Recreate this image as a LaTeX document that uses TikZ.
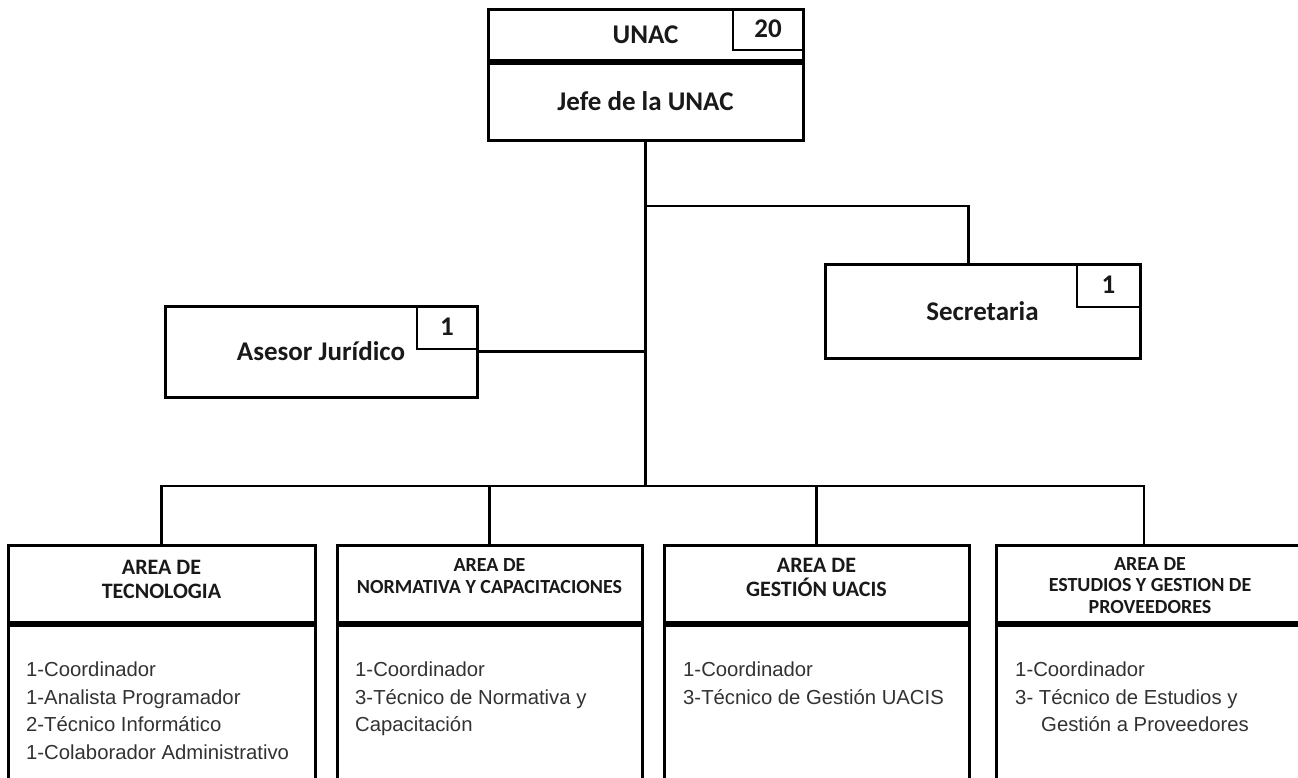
\documentclass[tikz,border=0pt]{standalone}
\usepackage{fontspec}
\setmainfont{Carlito}
\newfontfamily\arialfont{Liberation Sans}
\usetikzlibrary{positioning}
\definecolor{ink}{RGB}{25,25,25}
\definecolor{staffgray}{RGB}{50,50,50}

\tikzset{
  box/.style={draw=black, line width=3pt, inner sep=0pt},
  numbox/.style={box, line width=2pt, anchor=north east},
  link/.style={draw=black, line width=2.6pt},
  bigtext/.style={font=\bfseries\fontsize{27}{30}\selectfont, text=ink},
  areatitle/.style={font=\bfseries\fontsize{22}{24}\selectfont, align=center, text=ink, inner sep=0pt},
  areasmall/.style={font=\bfseries\fontsize{20}{21.5}\selectfont, align=center, text=ink, inner sep=0pt},
  staff/.style={font=\arialfont\fontsize{20.3}{27.5}\selectfont, align=left, anchor=north west, inner sep=0pt, text=staffgray},
}

\begin{document}
\begin{tikzpicture}[x=1pt, y=-1pt]
  \useasboundingbox (0,0) rectangle (1298,777);
  \clip (0,0) rectangle (1298,777);

  % jefatura
  \node[box, bigtext, minimum width=315pt, minimum height=51pt] (unac) at (645.5,34.5) {UNAC};
  \node[numbox, bigtext, minimum width=71pt, minimum height=41pt] (unacnum) at (unac.north east) {20};
  \node[box, bigtext, minimum width=315pt, minimum height=77pt, anchor=north] (jefe) at (unac.south) {Jefe de la UNAC};

  % apoyo
  \node[box, bigtext, minimum width=312pt, minimum height=91pt] (asesor) at (321,351.5) {Asesor Jurídico};
  \node[numbox, bigtext, minimum width=61pt, minimum height=43pt] (asesornum) at (asesor.north east) {1};
  \node[box, bigtext, minimum width=315pt, minimum height=94pt] (secre) at (982.5,311) {Secretaria};
  \node[numbox, bigtext, minimum width=64pt, minimum height=43pt] (secrenum) at (secre.north east) {1};

  % areas
  \foreach \a/\x/\w in {tec/161.5/307, norm/489.5/305, uacis/816.5/305, prov/1148/304} {
    \node[box, minimum width=\w pt, minimum height=76.5pt] (\a-h) at (\x,583.75) {};
    \node[box, minimum width=\w pt, minimum height=190pt, anchor=north] (\a-b) at (\a-h.south) {};
  }

  \node[areatitle] (tec-t) at (161.5,579) {AREA DE\\TECNOLOGIA};
  \node[areasmall] (norm-t) at (489.5,576) {AREA DE\\NORMATIVA Y CAPACITACIONES};
  \node[areatitle] (uacis-t) at (816.5,577) {AREA DE\\GESTIÓN UACIS};
  \node[areasmall] (prov-t) at (1150,585.5) {AREA DE\\ESTUDIOS Y GESTION DE\\PROVEEDORES};

  \node[staff] (tec-s) at (26,662) {1-Coordinador\\1-Analista Programador\\2-Técnico Informático\\1-Colaborador Administrativo};
  \node[staff] (norm-s) at (355,662) {1-Coordinador\\3-Técnico de Normativa y\\Capacitación};
  \node[staff] (uacis-s) at (683,662) {1-Coordinador\\3-Técnico de Gestión UACIS};
  \node[staff] (prov-s) at (1015,662) {1-Coordinador\\3- Técnico de Estudios y\\\hspace*{26pt}Gestión a Proveedores};

  % conectores
  \coordinate (secturn) at (645.5,206);
  \coordinate (busmid) at (645.5,486);
  \draw[link] (jefe.south) -- (busmid);
  \draw[link] (secturn) -| ([xshift=-14pt]secre.north);
  \draw[link] (asesor.east) -- (asesor.east -| jefe.south);
  \draw[link] (tec-h.north) |- (busmid) -| ([xshift=-4pt]prov-h.north);
  \draw[link] (norm-h.north) -- (norm-h.north |- busmid);
  \draw[link] (uacis-h.north) -- (uacis-h.north |- busmid);
\end{tikzpicture}
\end{document}
